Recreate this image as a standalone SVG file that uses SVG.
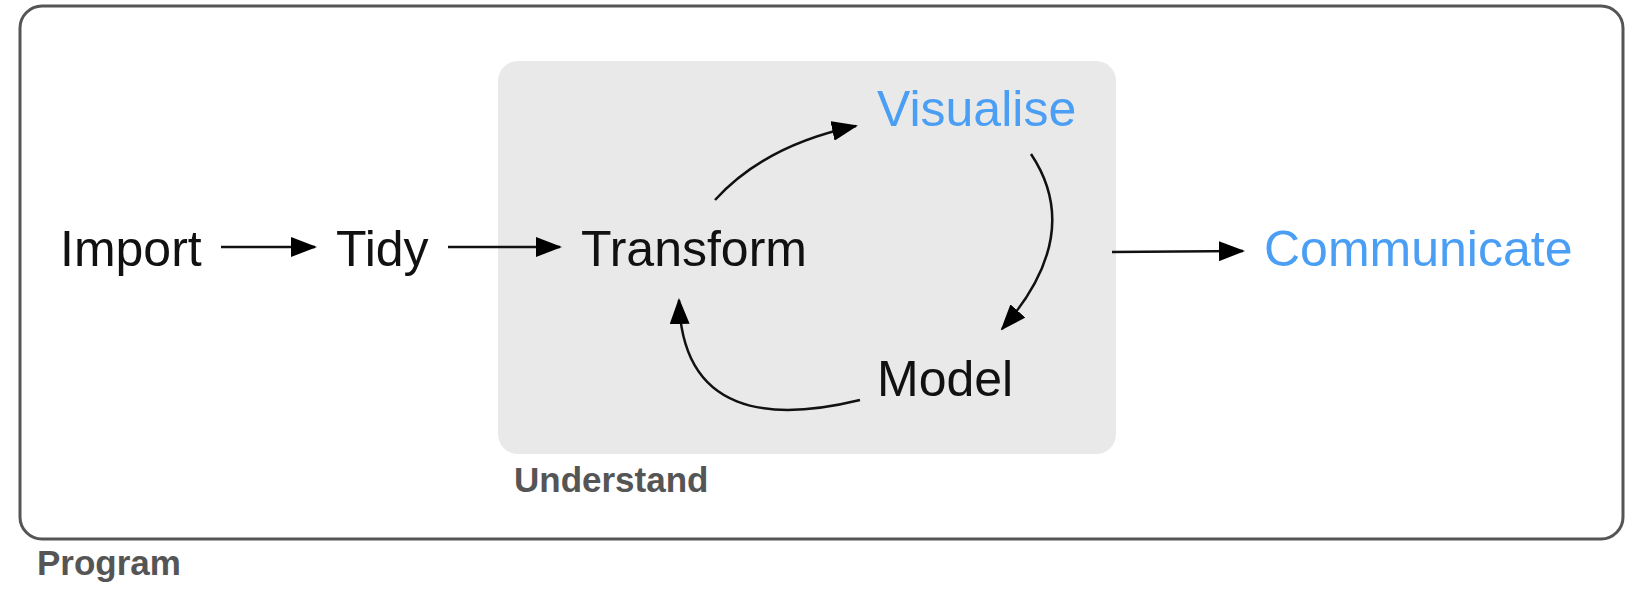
<svg xmlns="http://www.w3.org/2000/svg" width="1648" height="590" viewBox="0 0 1648 590">
<style>
.t{font-family:"Liberation Sans",Arial,sans-serif;font-size:50px;fill:#111}
.b{fill:#4a9ff5}
.l{font-family:"Liberation Sans",Arial,sans-serif;font-weight:bold;font-size:35px;fill:#555}
.c{fill:none;stroke:#111;stroke-width:2.5}
</style>
<defs>
<marker id="a" markerUnits="userSpaceOnUse" markerWidth="26" markerHeight="20" refX="24" refY="10" orient="auto">
<path d="M0 0 L26 10 L0 20 Z" fill="#000"/>
</marker>
</defs>
<rect x="0" y="0" width="1648" height="590" fill="#fff"/>
<g id="program"><rect x="20" y="6" width="1603" height="533" rx="22" fill="none" stroke="#555" stroke-width="3"/><text class="l" x="37" y="575">Program</text></g>
<g id="understand"><rect x="498" y="61" width="618" height="393" rx="20" fill="#e9e9e9"/><text class="l" x="514" y="492">Understand</text></g>
<g id="import"><text class="t" x="60" y="266">Import</text></g>
<g id="tidy"><text class="t" x="336" y="266">Tidy</text></g>
<g id="transform"><text class="t" x="581" y="266">Transform</text></g>
<g id="visualise"><text class="t b" x="877" y="126">Visualise</text></g>
<g id="model"><text class="t" x="877" y="396">Model</text></g>
<g id="communicate"><text class="t b" x="1264" y="266">Communicate</text></g>
<g id="connectors">
<path class="c" d="M221 247 L315 247" marker-end="url(#a)"/>
<path class="c" d="M448 247 L560 247" marker-end="url(#a)"/>
<path class="c" d="M1112 252 L1243 251" marker-end="url(#a)"/>
<path class="c" d="M715 200 Q765 145 856 126" marker-end="url(#a)"/>
<path class="c" d="M1031 154 Q1085 235 1002 329" marker-end="url(#a)"/>
<path class="c" d="M860 400 C770 422 682 415 679 300" marker-end="url(#a)"/>
</g>
</svg>
